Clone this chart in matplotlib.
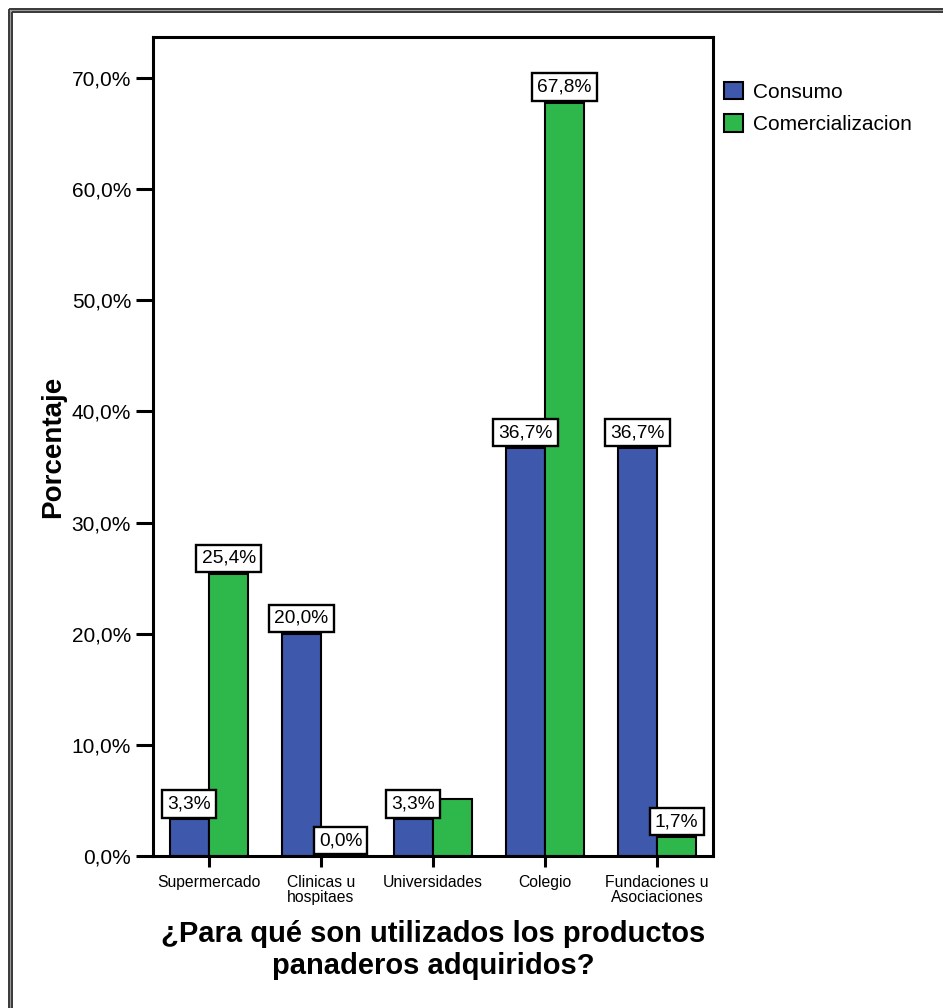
import matplotlib
matplotlib.use("Agg")
import matplotlib.pyplot as plt
from matplotlib.lines import Line2D
from matplotlib.patches import Patch

plt.rcParams['font.family'] = ['Liberation Sans', 'DejaVu Sans']

categories = ["Supermercado", "Clinicas u\nhospitaes", "Universidades", "Colegio",
              "Fundaciones u\nAsociaciones"]
series_names = ["Consumo", "Comercializacion"]
consumo = [3.3, 20.0, 3.3, 36.7, 36.7]
comercializacion = [25.4, 0.0, 5.1, 67.8, 1.7]
# which bars carry a value box
consumo_labeled = [True, True, True, True, True]
comercializacion_labeled = [True, True, False, True, True]
y_ticks = [0, 10, 20, 30, 40, 50, 60, 70]

blue = "#3E58AC"
green = "#2EB84B"

fig = plt.figure(figsize=(9.43, 10.08), dpi=100)
W, H = 943, 1008
ax = fig.add_axes([153 / W, 1 - 856 / H, (713 - 153) / W, (856 - 37) / H])

width = 0.35
xs = list(range(len(categories)))
series = [(consumo, consumo_labeled, blue, -width / 2),
          (comercializacion, comercializacion_labeled, green, width / 2)]

for (vals, labeled, col, off), name in zip(series, series_names):
    bars = ax.bar([x + off for x in xs], vals, width=width, color=col,
                  edgecolor="black", linewidth=1.5, label=name, zorder=2)
    for b, v, lab in zip(bars, vals, labeled):
        if not lab:
            continue
        ax.annotate(f"{v:.1f}%".replace(".", ","),
                    xy=(b.get_x() + b.get_width() / 2, v),
                    xytext=(0, 5), textcoords="offset points",
                    ha="center", va="bottom", fontsize=13.8, zorder=5,
                    bbox=dict(boxstyle="square,pad=0.27", fc="white",
                              ec="black", lw=1.7))

ax.set_xlim(-0.5, len(categories) - 0.5)
ax.set_ylim(0, 73.7)
ax.set_xticks(xs)
ax.set_xticklabels(categories, fontsize=11.3, linespacing=1.05)
ax.set_yticks(y_ticks)
ax.set_yticklabels([f"{t:.1f}%".replace(".", ",") for t in y_ticks], fontsize=15)

for sp in ax.spines.values():
    sp.set_linewidth(2.2)
ax.tick_params(axis="y", length=12.2, width=2.2, pad=3.6)
ax.tick_params(axis="x", length=8, width=2.2, pad=5.5)

ax.set_ylabel("Porcentaje", fontsize=20, fontweight="bold")
ax.yaxis.set_label_coords(-0.155, 0.5)

fig.text(433 / W, 1 - 950 / H,
         "¿Para qué son utilizados los productos\npanaderos adquiridos?",
         ha="center", va="center", multialignment="center",
         fontsize=21, fontweight="bold")

handles = [Patch(facecolor=blue, edgecolor="black", linewidth=1.5),
           Patch(facecolor=green, edgecolor="black", linewidth=1.5)]
fig.legend(handles, series_names, loc="upper left",
           bbox_to_anchor=(724 / W, 1 - 82 / H), frameon=False,
           fontsize=15, handlelength=0.9, handleheight=0.9,
           handletextpad=0.5, labelspacing=0.6, borderpad=0, borderaxespad=0)

# double frame around the chart area
for px, c, lw in [(10, "#9a9a9a", 3.5), (8.5, "#333333", 1.3), (11.5, "#333333", 1.3)]:
    fig.add_artist(Line2D([px / W, px / W], [0, 1 - px / H], transform=fig.transFigure,
                          color=c, lw=lw, solid_capstyle="butt"))
    fig.add_artist(Line2D([px / W, 1], [1 - px / H, 1 - px / H], transform=fig.transFigure,
                          color=c, lw=lw, solid_capstyle="butt"))

fig.savefig("out.png", dpi=100)
